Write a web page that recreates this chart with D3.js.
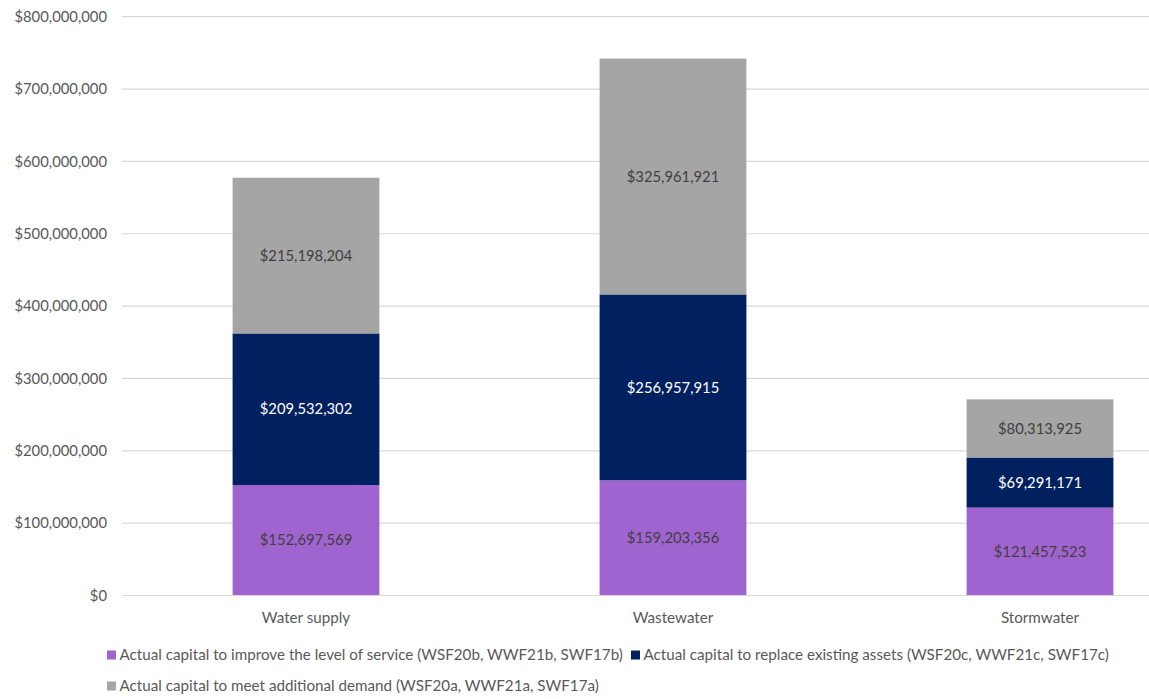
<!DOCTYPE html>
<html>
<head>
<meta charset="utf-8">
<script src="https://cdn.jsdelivr.net/npm/d3@7"></script>
<style>
  html, body { margin: 0; padding: 0; background: #fff; }
  svg { display: block; font-family: Lato, "Open Sans", sans-serif; }
</style>
</head>
<body>
<svg id="chart" width="1149" height="699"></svg>
<script>
// Capital expenditure by network type
const categories = ["Water supply", "Wastewater", "Stormwater"];
const seriesNames = [
  "Actual capital to improve the level of service (WSF20b, WWF21b, SWF17b)",
  "Actual capital to replace existing assets (WSF20c, WWF21c, SWF17c)",
  "Actual capital to meet additional demand (WSF20a, WWF21a, SWF17a)"
];
const improveService = [152697569, 159203356, 121457523];
const replaceAssets = [209532302, 256957915, 69291171];
const additionalDemand = [215198204, 325961921, 80313925];
const yTicks = [0, 100000000, 200000000, 300000000, 400000000, 500000000, 600000000, 700000000, 800000000];
const colors = ["#a064d0", "#002060", "#a5a5a5"];
const labelColors = ["#404040", "#ffffff", "#404040"];

const svg = d3.select("#chart");
const W = 1149;

// plot area (the category axis continues past the right edge)
const x = d3.scaleBand().domain(categories).range([122.5, 1223.5]).paddingInner(0.6).paddingOuter(0.3);
const y = d3.scaleLinear().domain([0, 800000000]).range([595.5, 16.7]);

const rows = categories.map((c, i) => ({
  category: c,
  s0: improveService[i],
  s1: replaceAssets[i],
  s2: additionalDemand[i]
}));
const stack = d3.stack().keys(["s0", "s1", "s2"]);
const layers = stack(rows);

const fmt = d3.format("$,");

// gridlines
svg.append("g")
  .selectAll("line")
  .data(yTicks.slice(1))
  .join("line")
  .attr("x1", 122)
  .attr("x2", W)
  .attr("y1", d => y(d))
  .attr("y2", d => y(d))
  .attr("stroke", "#d9d9d9")
  .attr("stroke-width", 1.2);

// y axis labels
svg.append("g")
  .selectAll("text")
  .data(yTicks)
  .join("text")
  .attr("x", 107)
  .attr("y", d => y(d))
  .attr("dy", "0.35em")
  .attr("text-anchor", "end")
  .attr("fill", "#595959")
  .attr("font-size", 14.8)
  .text(d => fmt(d));

// stacked bars
const g = svg.append("g");
layers.forEach((layer, li) => {
  g.append("g")
    .selectAll("rect")
    .data(layer)
    .join("rect")
    .attr("x", d => x(d.data.category))
    .attr("width", x.bandwidth())
    .attr("y", d => y(d[1]))
    .attr("height", d => y(d[0]) - y(d[1]))
    .attr("fill", colors[li]);
});

// baseline
svg.append("line")
  .attr("x1", 122).attr("x2", W)
  .attr("y1", y(0)).attr("y2", y(0))
  .attr("stroke", "#d9d9d9").attr("stroke-width", 1.2);

// value labels
layers.forEach((layer, li) => {
  g.append("g")
    .selectAll("text")
    .data(layer)
    .join("text")
    .attr("x", d => x(d.data.category) + x.bandwidth() / 2)
    .attr("y", d => (y(d[0]) + y(d[1])) / 2)
    .attr("dy", "0.35em")
    .attr("text-anchor", "middle")
    .attr("fill", labelColors[li])
    .attr("font-size", 14.8)
    .text(d => fmt(d[1] - d[0]));
});

// category labels
svg.append("g")
  .selectAll("text")
  .data(categories)
  .join("text")
  .attr("x", d => x(d) + x.bandwidth() / 2)
  .attr("y", 618)
  .attr("dy", "0.35em")
  .attr("text-anchor", "middle")
  .attr("fill", "#595959")
  .attr("font-size", 15.2)
  .text(d => d);

// legend
const legendPos = [
  { x: 107, y: 655 },
  { x: 631, y: 655 },
  { x: 107, y: 686 }
];
const legend = svg.append("g")
  .selectAll("g")
  .data(seriesNames)
  .join("g")
  .attr("transform", (d, i) => `translate(${legendPos[i].x},${legendPos[i].y})`);
legend.append("rect")
  .attr("x", 0).attr("y", -4.5)
  .attr("width", 9).attr("height", 9)
  .attr("fill", (d, i) => colors[i]);
legend.append("text")
  .attr("x", 12.5)
  .attr("dy", "0.35em")
  .attr("fill", "#595959")
  .attr("font-size", 15.2)
  .text(d => d);
</script>
</body>
</html>
